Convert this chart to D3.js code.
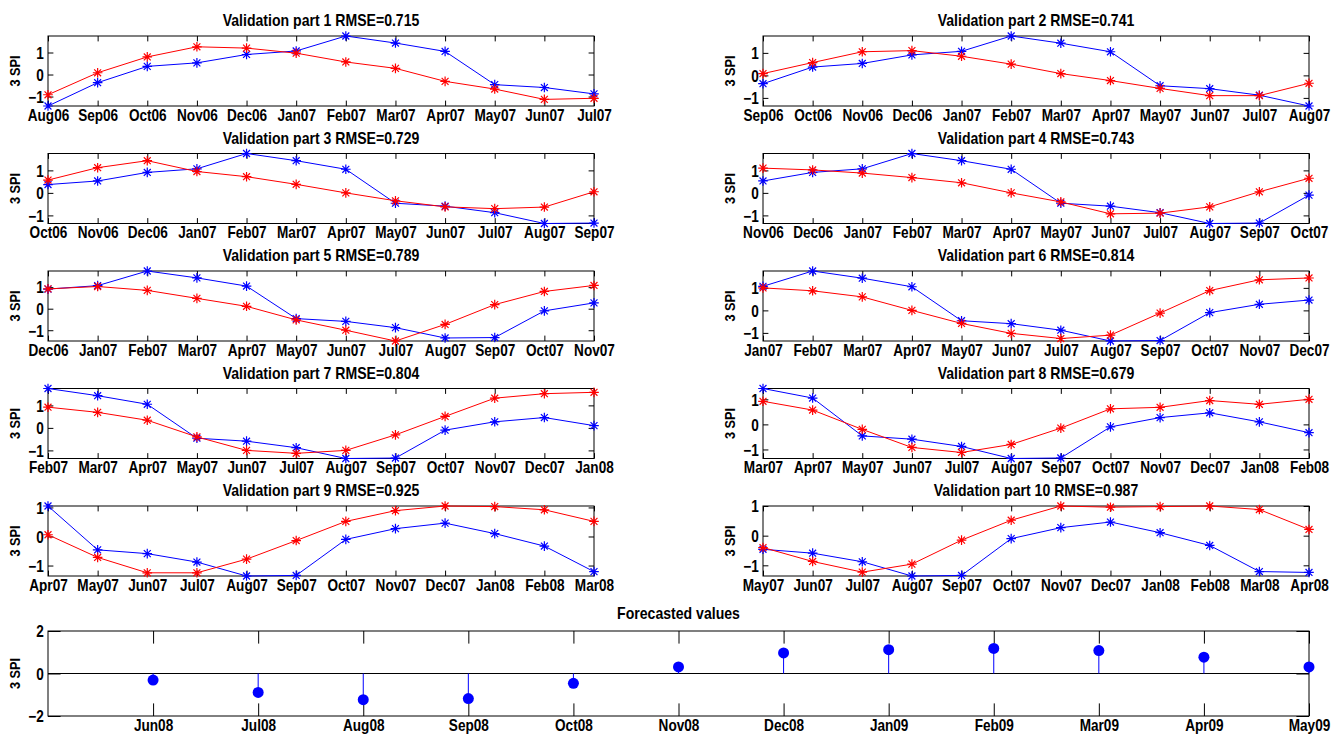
<!DOCTYPE html>
<html><head><meta charset="utf-8">
<script src="https://cdn.jsdelivr.net/npm/d3@7"></script>
<style>
body{margin:0;background:#fff;}
svg text{font-family:"Liberation Sans",Arial,Helvetica,sans-serif;font-weight:bold;fill:#000;}
</style></head><body><svg id="chart" width="1338" height="737"></svg>
<script>
// ---- data ----
const months = ["Aug06","Sep06","Oct06","Nov06","Dec06","Jan07","Feb07","Mar07","Apr07","May07","Jun07",
  "Jul07","Aug07","Sep07","Oct07","Nov07","Dec07","Jan08","Feb08","Mar08","Apr08"];
const observed = [-1.43,-0.37,0.37,0.53,0.91,1.07,1.75,1.43,1.05,-0.46,-0.59,
  -0.88,-1.36,-1.34,-0.1,0.27,0.46,0.1,-0.33,-1.21,-1.24];
const panelStart = [0,1,2,3,4,5,6,7,8,9];
const predicted = [
  [-0.92,0.08,0.8,1.26,1.2,0.97,0.57,0.28,-0.31,-0.66,-1.13,-1.08],
  [0.08,0.57,1.05,1.1,0.85,0.5,0.08,-0.23,-0.58,-0.9,-0.9,-0.35],
  [0.57,1.12,1.43,0.95,0.72,0.38,0.0,-0.35,-0.62,-0.7,-0.63,0.05],
  [1.1,1.02,0.88,0.68,0.45,0.0,-0.4,-0.93,-0.9,-0.62,0.05,0.65],
  [0.92,1.03,0.85,0.48,0.11,-0.52,-1.0,-1.5,-0.73,0.19,0.8,1.08],
  [1.0,0.87,0.6,0.0,-0.58,-1.02,-1.25,-1.1,-0.12,0.88,1.36,1.44],
  [0.92,0.69,0.34,-0.4,-1.0,-1.13,-1.0,-0.31,0.51,1.32,1.52,1.58],
  [0.92,0.57,-0.2,-0.92,-1.12,-0.8,-0.15,0.62,0.68,0.95,0.8,1.0],
  [0.06,-0.72,-1.25,-1.25,-0.78,-0.14,0.52,0.89,1.05,1.03,0.92,0.52],
  [-0.4,-0.87,-1.23,-0.96,-0.15,0.52,1.0,0.96,0.98,1.0,0.88,0.21]
];
const rmse = ["0.715","0.741","0.729","0.743","0.789","0.814","0.804","0.679","0.925","0.987"];
const yTickValues = [-1,0,1];
const forecastMonths = ["Jun08","Jul08","Aug08","Sep08","Oct08","Nov08","Dec08","Jan09","Feb09","Mar09","Apr09","May09"];
const forecastValues = [-0.31,-0.89,-1.23,-1.18,-0.46,0.31,0.97,1.12,1.18,1.08,0.77,0.31];
const forecastYTicks = [-2,0,2];

// ---- layout ----
const svg = d3.select("#chart");
const colX = [[48,594],[763,1309]];
const rowTop = [36,153.5,271,388.5,506];
const rowH = 70;
const fontSize = 16;
const squeeze = "scale(0.85,1)";

function asterisk(s){
  const d = s*0.72;
  return `M0,${-s}V${s}M${-s},0H${s}M${-d},${-d}L${d},${d}M${-d},${d}L${d},${-d}`;
}
const starPath = asterisk(4.8);

function frameAxes(g, x, y, xVals, xFmt, yVals, tick){
  const [x0,x1] = x.range(); const [y0,y1] = y.range(); // y0 bottom
  const ax = d3.axisBottom(x).tickValues(xVals).tickFormat(xFmt).tickSizeInner(-tick).tickSizeOuter(0).tickPadding(3);
  const gb = g.append("g").attr("transform",`translate(0,${y0})`).call(ax);
  gb.selectAll("text").attr("font-size",fontSize).attr("dy","0.75em").attr("transform",squeeze);
  g.append("g").attr("transform",`translate(0,${y1})`)
    .call(d3.axisTop(x).tickValues(xVals).tickFormat("").tickSizeInner(-tick).tickSizeOuter(0));
  const gl = g.append("g").attr("transform",`translate(${x0},0)`)
    .call(d3.axisLeft(y).tickValues(yVals).tickFormat(d3.format("d")).tickSizeInner(-tick).tickSizeOuter(0).tickPadding(5));
  gl.selectAll("text").attr("font-size",fontSize).attr("dy","0.36em").attr("transform",squeeze);
  g.append("g").attr("transform",`translate(${x1},0)`)
    .call(d3.axisRight(y).tickValues(yVals).tickFormat("").tickSizeInner(-tick).tickSizeOuter(0));
  g.selectAll(".domain").remove();
  g.selectAll(".tick line").attr("stroke","#000").attr("stroke-width",1);
  g.selectAll("text").attr("font-family",null);
  g.append("rect").attr("x",x0).attr("y",y1).attr("width",x1-x0).attr("height",y0-y1)
    .attr("fill","none").attr("stroke","#000").attr("stroke-width",1);
  g.append("text").attr("transform",`translate(${x0-33},${(y0+y1)/2}) rotate(-90) scale(0.85,1)`)
    .attr("text-anchor","middle").attr("dy","0.35em").attr("font-size",15).text("3 SPI");
}

function title(g, cx, yb, str){
  g.append("text").attr("transform",`translate(${cx},${yb}) scale(0.88,1)`)
    .attr("text-anchor","middle").attr("font-size",16).text(str);
}

panelStart.forEach((start, i) => {
  const col = i % 2, row = Math.floor(i/2);
  const labels = months.slice(start, start+12);
  const blue = observed.slice(start, start+12);
  const red = predicted[i];
  const ext = d3.extent(blue.concat(red));
  const x = d3.scaleLinear().domain([0,11]).range(colX[col]);
  const y = d3.scaleLinear().domain(ext).range([rowTop[row]+rowH, rowTop[row]]);
  const g = svg.append("g");
  const yVals = yTickValues.filter(v => v >= ext[0]-1e-9 && v <= ext[1]+1e-9);
  frameAxes(g, x, y, d3.range(12), d => labels[d], yVals, 5.4);
  title(g, (colX[col][0]+colX[col][1])/2, rowTop[row]-10, `Validation part ${i+1} RMSE=${rmse[i]}`);
  const line = d3.line().x((d,k)=>x(k)).y(d=>y(d));
  [[blue,"#0000ff"],[red,"#ff0000"]].forEach(([vals,color]) => {
    g.append("path").datum(vals).attr("d",line).attr("fill","none").attr("stroke",color).attr("stroke-width",1);
    g.append("g").selectAll("path").data(vals).join("path")
      .attr("transform",(d,k)=>`translate(${x(k)},${y(d)})`).attr("d",starPath)
      .attr("fill","none").attr("stroke",color).attr("stroke-width",1.2);
  });
});

// ---- forecast ----
{
  const fx = [48,1309];
  const x = d3.scaleLinear().domain([0,12]).range(fx);
  const y = d3.scaleLinear().domain([-2,2]).range([716,631]);
  const g = svg.append("g");
  frameAxes(g, x, y, d3.range(1,13), d => forecastMonths[d-1], forecastYTicks, 12.6);
  title(g, (fx[0]+fx[1])/2, 631-12, "Forecasted values");
  g.append("line").attr("x1",fx[0]).attr("x2",fx[1]).attr("y1",y(0)).attr("y2",y(0)).attr("stroke","#000").attr("stroke-width",1);
  g.append("g").selectAll("line").data(forecastValues).join("line")
    .attr("x1",(d,k)=>x(k+1)).attr("x2",(d,k)=>x(k+1)).attr("y1",y(0)).attr("y2",d=>y(d))
    .attr("stroke","#0000ff").attr("stroke-width",1);
  g.append("g").selectAll("circle").data(forecastValues).join("circle")
    .attr("cx",(d,k)=>x(k+1)).attr("cy",d=>y(d)).attr("r",5.5).attr("fill","#0000ff");
}
</script></body></html>
